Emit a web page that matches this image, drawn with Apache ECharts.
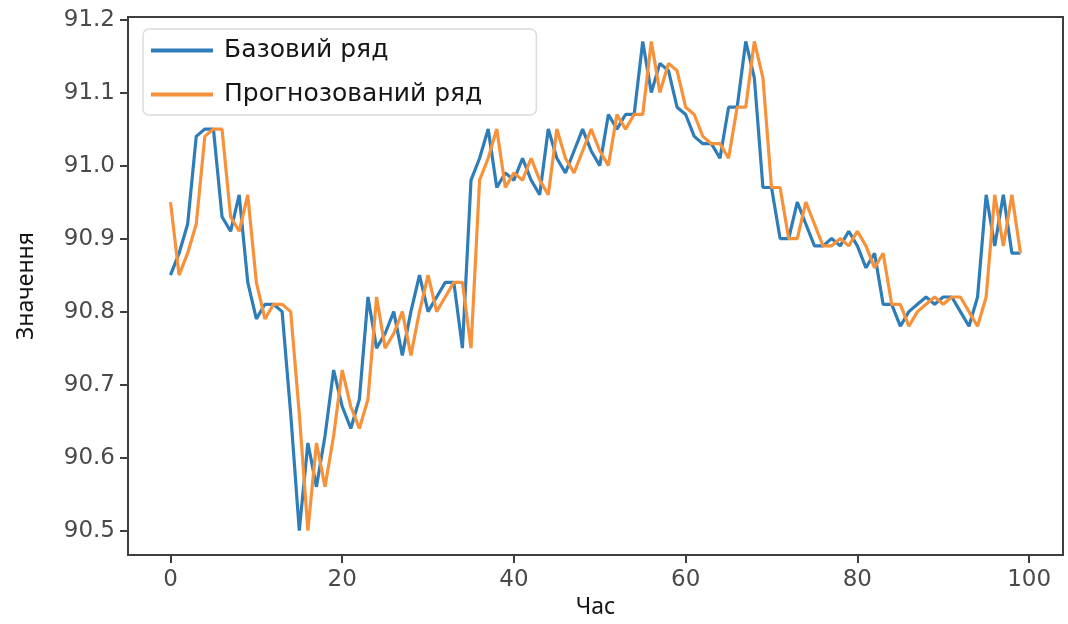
<!DOCTYPE html>
<html>
<head>
<meta charset="utf-8">
<script src="https://cdn.jsdelivr.net/npm/echarts@6/dist/echarts.min.js"></script>
<style>
html,body{margin:0;padding:0;background:#fff;}
#chart{width:1068px;height:624px;}
</style>
</head>
<body>
<div id="chart"></div>
<script>
const xTicks = [0, 20, 40, 60, 80, 100];
const yTicks = [90.5, 90.6, 90.7, 90.8, 90.9, 91.0, 91.1, 91.2];
const seriesNames = ['Базовий ряд', 'Прогнозований ряд'];
const baseSeries = [
  90.85, 90.88, 90.92, 91.04, 91.05, 91.05, 90.93, 90.91, 90.96, 90.84,
  90.79, 90.81, 90.81, 90.80, 90.66, 90.50, 90.62, 90.56, 90.63, 90.72,
  90.67, 90.64, 90.68, 90.82, 90.75, 90.77, 90.80, 90.74, 90.80, 90.85,
  90.80, 90.82, 90.84, 90.84, 90.75, 90.98, 91.01, 91.05, 90.97, 90.99,
  90.98, 91.01, 90.98, 90.96, 91.05, 91.01, 90.99, 91.02, 91.05, 91.02,
  91.00, 91.07, 91.05, 91.07, 91.07, 91.17, 91.10, 91.14, 91.13, 91.08,
  91.07, 91.04, 91.03, 91.03, 91.01, 91.08, 91.08, 91.17, 91.12, 90.97,
  90.97, 90.90, 90.90, 90.95, 90.92, 90.89, 90.89, 90.90, 90.89, 90.91,
  90.89, 90.86, 90.88, 90.81, 90.81, 90.78, 90.80, 90.81, 90.82, 90.81,
  90.82, 90.82, 90.80, 90.78, 90.82, 90.96, 90.89, 90.96, 90.88, 90.88
];
const forecastSeries = [
  90.95, 90.85, 90.88, 90.92, 91.04, 91.05, 91.05, 90.93, 90.91, 90.96,
  90.84, 90.79, 90.81, 90.81, 90.80, 90.66, 90.50, 90.62, 90.56, 90.63,
  90.72, 90.67, 90.64, 90.68, 90.82, 90.75, 90.77, 90.80, 90.74, 90.80,
  90.85, 90.80, 90.82, 90.84, 90.84, 90.75, 90.98, 91.01, 91.05, 90.97,
  90.99, 90.98, 91.01, 90.98, 90.96, 91.05, 91.01, 90.99, 91.02, 91.05,
  91.02, 91.00, 91.07, 91.05, 91.07, 91.07, 91.17, 91.10, 91.14, 91.13,
  91.08, 91.07, 91.04, 91.03, 91.03, 91.01, 91.08, 91.08, 91.17, 91.12,
  90.97, 90.97, 90.90, 90.90, 90.95, 90.92, 90.89, 90.89, 90.90, 90.89,
  90.91, 90.89, 90.86, 90.88, 90.81, 90.81, 90.78, 90.80, 90.81, 90.82,
  90.81, 90.82, 90.82, 90.80, 90.78, 90.82, 90.96, 90.89, 90.96, 90.88
];

const toPairs = arr => arr.map((v, i) => [i, v]);

const chart = echarts.init(document.getElementById('chart'), null, {renderer: 'canvas'});
const spine = '#3f3f3f';
const tickFont = {fontFamily: 'DejaVu Sans', fontSize: 23, color: '#4a4a4a'};
chart.setOption({
  animation: false,
  backgroundColor: '#ffffff',
  grid: {
    left: 128, right: 5, top: 17, bottom: 60,
    show: true, borderColor: spine, borderWidth: 2, backgroundColor: 'transparent'
  },
  legend: {
    data: seriesNames,
    orient: 'vertical',
    left: 143, top: 29,
    icon: 'rect',
    itemWidth: 62, itemHeight: 4,
    itemGap: 19,
    padding: [9, 54, 8, 8],
    borderColor: '#dcdcdc', borderWidth: 1.5, borderRadius: 6,
    backgroundColor: 'rgba(255,255,255,0.85)',
    textStyle: {fontFamily: 'DejaVu Sans', fontSize: 25, color: '#151515', padding: [0, 0, 0, 6], lineHeight: 24}
  },
  xAxis: {
    type: 'value',
    min: -4.95, max: 103.95,
    name: 'Час',
    nameLocation: 'middle',
    nameGap: 30,
    nameTextStyle: {fontFamily: 'Noto Sans', fontSize: 23, color: '#151515'},
    axisLine: {show: true, onZero: false, lineStyle: {color: spine, width: 2}},
    axisTick: {show: true, inside: false, length: 8, lineStyle: {color: spine, width: 2}, customValues: xTicks},
    axisLabel: {show: true, margin: 13, customValues: xTicks, formatter: v => String(v), ...tickFont},
    splitLine: {show: false}
  },
  yAxis: {
    type: 'value',
    min: 90.4665, max: 91.2035,
    name: 'Значення',
    nameLocation: 'middle',
    nameGap: 90,
    nameRotate: 90,
    nameTextStyle: {fontFamily: 'Noto Sans', fontSize: 23, color: '#151515'},
    axisLine: {show: true, onZero: false, lineStyle: {color: spine, width: 2}},
    axisTick: {show: true, inside: false, length: 8, lineStyle: {color: spine, width: 2}, customValues: yTicks},
    axisLabel: {show: true, margin: 13, customValues: yTicks, formatter: v => v.toFixed(1), ...tickFont},
    splitLine: {show: false}
  },
  series: [
    {
      name: seriesNames[0], type: 'line', data: toPairs(baseSeries),
      symbol: 'none', showSymbol: false, smooth: false,
      lineStyle: {color: '#2f7db8', width: 3.2}, itemStyle: {color: '#2f7db8'}
    },
    {
      name: seriesNames[1], type: 'line', data: toPairs(forecastSeries),
      symbol: 'none', showSymbol: false, smooth: false,
      lineStyle: {color: '#f7923a', width: 3.2}, itemStyle: {color: '#f7923a'}
    }
  ]
});
</script>
</body>
</html>
